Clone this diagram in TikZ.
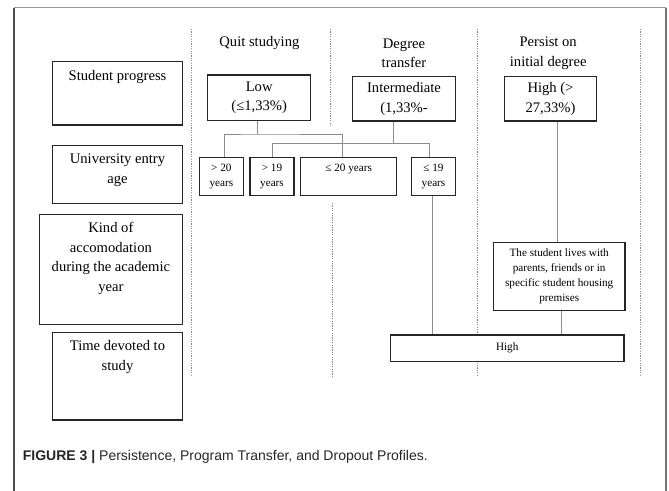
\documentclass[tikz,border=0pt]{standalone}
\usepackage{fontspec}
\setmainfont{Liberation Serif}
\newfontfamily\capfont{Liberation Sans}
\begin{document}
\begin{tikzpicture}[x=1pt,y=-1pt,
  box/.style={draw=black!85,line width=1.3pt,fill=white,inner sep=0pt},
  link/.style={draw=black!45,line width=0.8pt},
  sep/.style={draw=black!45,line width=0.7pt,dash pattern=on 1.2pt off 1.2pt},
  txt/.style={align=center,font=\fontsize{14.6}{19.5}\selectfont,inner sep=0pt},
  small/.style={align=center,font=\fontsize{11.2}{15}\selectfont,inner sep=0pt}]

\useasboundingbox (0,0) rectangle (669,490);
\draw [black!70,line width=1.2pt] (14,495) -- (14,7.7);
\draw [black!40,line width=0.8pt] (14,7.7) -- (666,7.7);
\draw [black!55,line width=1.6pt] (666,7.7) -- (666,495);

\coordinate (s1t) at (191.6,29);
\coordinate (s1b) at (191.6,376);
\coordinate (s2t) at (330.6,29);
\coordinate (s2m) at (330.6,127);
\coordinate (s2n) at (332.8,203);
\coordinate (s2b) at (332.8,376);
\coordinate (s3t) at (477.3,29);
\coordinate (s3b) at (477.3,375);
\coordinate (s4t) at (640.5,29);
\coordinate (s4b) at (640.5,375);
\draw [sep] (s1t) -- (s1b);
\draw [sep] (s2t) -- (s2m);
\draw [sep] (s2n) -- (s2b);
\draw [sep] (s3t) -- (s3b);
\draw [sep] (s4t) -- (s4b);

\node (prog) at (117.5,93.4) [box,minimum width=130pt,minimum height=63.3pt] {};
\node (uage) at (117.5,174.5) [box,minimum width=130pt,minimum height=57.6pt] {};
\node (kind) at (110.9,269.3) [box,minimum width=143.4pt,minimum height=110pt] {};
\node (time) at (117.5,376.2) [box,minimum width=130pt,minimum height=87.7pt] {};

\node (progtxt) at (117.5,77) [txt] {Student progress};
\node (uagetxt) at (117.5,170.3) [txt] {University entry\\age};
\node (kindtxt) at (110.9,258.5) [txt] {Kind of\\accomodation\\during the academic\\year};
\node (timetxt) at (117.5,357) [txt] {Time devoted to\\study};

\node (quit) at (259.4,43.3) [txt] {Quit studying};
\node (trans) at (404,53.3) [txt] {Degree\\transfer};
\node (pers) at (548.2,53.3) [txt] {Persist on\\initial degree};

\node (low) at (259.2,97.9) [box,txt,minimum width=102.8pt,minimum height=45.7pt] {Low\\(≤1,33\%)};
\node (inter) at (404,98.8) [box,txt,minimum width=103.2pt,minimum height=44.3pt] {Intermediate\\(1,33\%-};
\node (hip) at (550.5,98.8) [box,txt,minimum width=91.7pt,minimum height=44.3pt] {High (>\\27,33\%)};

\node (gt20) at (221.4,176.4) [box,small,minimum width=43.7pt,minimum height=38.2pt] {> 20\\years};
\node (gt19) at (272,176.4) [box,small,minimum width=44pt,minimum height=38.2pt] {> 19\\years};
\node (le20) at (348.7,176.4) [box,small,minimum width=96pt,minimum height=38.2pt] {};
\node (le20txt) at (348.7,169.3) [small] {≤ 20 years};
\node (le19) at (433.5,176.4) [box,small,minimum width=44.3pt,minimum height=38.2pt] {≤ 19\\years};

\node (lives) at (559.2,276.7) [box,small,minimum width=131.7pt,minimum height=68pt] {The student lives with\\parents, friends or in\\specific student housing\\premises};
\node (high) at (507.2,348.3) [box,small,minimum width=233.7pt,minimum height=26.7pt] {High};

\coordinate (lowj) at (257.3,134);
\coordinate (interj) at (393.3,143.3);
\draw [link] ([xshift=-1.9pt]low.south) -- (lowj);
\draw [link] ([xshift=3.4pt]gt20.north) |- (lowj) -| ([xshift=-6pt]le20.north);
\draw [link] ([xshift=-10.7pt]inter.south) -- (interj);
\draw [link] (gt19.north) |- (interj) -| ([xshift=-4.3pt]le19.north);
\draw [link] ([xshift=-0.9pt]le19.south) -- ([xshift=-0.9pt]le19.south |- high.north);
\draw [link] ([xshift=7.1pt]hip.south) -- ([xshift=7.1pt]hip.south |- lives.north);
\draw [link] ([xshift=1.8pt]lives.south) -- ([xshift=1.8pt]lives.south |- high.north);

\node (caption) at (22.7,456.7) [anchor=west,inner sep=0pt,text=black!85,font=\capfont\fontsize{14}{16}\selectfont] {\textbf{FIGURE 3 |} Persistence, Program Transfer, and Dropout Profiles.};

\end{tikzpicture}
\end{document}
